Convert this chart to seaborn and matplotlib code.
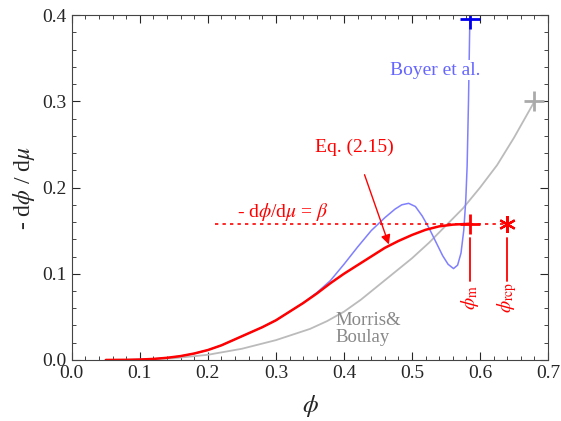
import numpy as np
import pandas as pd
import matplotlib
matplotlib.use("Agg")
import matplotlib.pyplot as plt
from matplotlib.ticker import MultipleLocator
import seaborn as sns

# Eq. (2.15) curve (red)
phi_eq = [0.05, 0.08, 0.10, 0.12, 0.14, 0.16, 0.18, 0.20, 0.22, 0.24, 0.26, 0.28, 0.30,
          0.32, 0.34, 0.36, 0.38, 0.40, 0.42, 0.44, 0.46, 0.48, 0.50, 0.52, 0.54, 0.56, 0.585]
rate_eq = [0.0, 0.0001, 0.0005, 0.0012, 0.0025, 0.0045, 0.0075, 0.0115, 0.017, 0.024, 0.031, 0.038, 0.046,
           0.056, 0.066, 0.077, 0.089, 0.100, 0.110, 0.120, 0.130, 0.138, 0.145, 0.151, 0.155, 0.157, 0.158]

# Boyer et al. (blue)
phi_boyer = [0.05, 0.08, 0.10, 0.12, 0.14, 0.16, 0.18, 0.20, 0.22, 0.24, 0.26, 0.28, 0.30,
             0.32, 0.34, 0.36, 0.38, 0.40, 0.42, 0.44, 0.46, 0.475, 0.485, 0.495, 0.505, 0.515,
             0.525, 0.535, 0.545, 0.553, 0.561, 0.567, 0.572, 0.576, 0.579, 0.581, 0.583, 0.585]
rate_boyer = [0.0, 0.0001, 0.0005, 0.0012, 0.0025, 0.0045, 0.0075, 0.0115, 0.017, 0.024, 0.031, 0.038, 0.046,
              0.056, 0.066, 0.078, 0.092, 0.111, 0.131, 0.150, 0.165, 0.175, 0.180, 0.1817, 0.178, 0.167,
              0.153, 0.137, 0.121, 0.111, 0.106, 0.110, 0.124, 0.150, 0.185, 0.225, 0.300, 0.395]

# Morris & Boulay (gray)
phi_mb = [0.05, 0.10, 0.15, 0.20, 0.25, 0.30, 0.35, 0.375, 0.40, 0.425, 0.45, 0.475, 0.50,
          0.525, 0.55, 0.575, 0.60, 0.625, 0.65, 0.68]
rate_mb = [0.0, 0.0005, 0.002, 0.006, 0.013, 0.023, 0.036, 0.045, 0.056, 0.070, 0.086, 0.102, 0.118,
           0.136, 0.156, 0.176, 0.200, 0.226, 0.258, 0.300]

beta = 0.158
phi_m = 0.585
phi_rcp = 0.64

sns.set_style("ticks")
plt.rcParams["font.family"] = ["Liberation Serif", "DejaVu Serif"]
plt.rcParams["mathtext.fontset"] = "stix"

fig = plt.figure(figsize=(5.61, 4.21), dpi=100)
ax = fig.add_axes([0.128, 0.145, 0.849, 0.819])

sns.lineplot(x=phi_mb, y=rate_mb, color="#bbbbbb", lw=1.3, ax=ax)
sns.lineplot(x=phi_boyer, y=rate_boyer, color="#7f7fff", lw=1.1, ax=ax, sort=False)
sns.lineplot(x=phi_eq, y=rate_eq, color="red", lw=1.8, ax=ax)

# markers
ax.plot(phi_m, rate_boyer[-1], "+", color="#0000ee", ms=14, mew=2)
ax.plot(phi_mb[-1], rate_mb[-1], "+", color="#aaaaaa", ms=14, mew=2)
ax.plot(phi_m, beta, "+", color="red", ms=14, mew=2)
ax.plot(phi_rcp, beta, marker=(6, 2, 0), color="red", ms=12, mew=1.6)

# beta line
ax.plot([0.21, phi_rcp], [beta, beta], ls=(0, (2, 2.5)), color="red", lw=1.2)
ax.text(0.31, 0.172, r"- d$\phi$/d$\mu$ = $\beta$", color="red", fontsize=14, ha="center", va="center")

# vertical markers
for p, lab in [(phi_m, r"$\phi_{\rm m}$"), (phi_rcp, r"$\phi_{\rm rcp}$")]:
    ax.plot([p, p], [0.092, 0.142], color="red", lw=1.3)
    ax.text(p, 0.072, lab, color="red", fontsize=14, rotation=90, ha="center", va="center")

ax.text(0.534, 0.336, "Boyer et al.", color="#6666ff", fontsize=14, ha="center", va="center",
        bbox=dict(fc="white", ec="none", pad=1))
ax.annotate("Eq. (2.15)", xy=(0.466, 0.134), xytext=(0.416, 0.247), color="red", fontsize=14,
            ha="center", va="center",
            arrowprops=dict(arrowstyle="-|>", color="red", lw=1, shrinkA=12, shrinkB=0,
                            mutation_scale=14))
ax.text(0.388, 0.036, "Morris&\nBoulay", color="#888888", fontsize=13.5, ha="left", va="center",
        linespacing=1.0)

ax.set_xlim(0, 0.7)
ax.set_ylim(0, 0.4)
ax.xaxis.set_major_locator(MultipleLocator(0.1))
ax.xaxis.set_minor_locator(MultipleLocator(0.02))
ax.yaxis.set_major_locator(MultipleLocator(0.1))
ax.yaxis.set_minor_locator(MultipleLocator(0.02))
ax.xaxis.set_major_formatter(plt.FormatStrFormatter("%.1f"))
ax.yaxis.set_major_formatter(plt.FormatStrFormatter("%.1f"))
ax.tick_params(which="both", direction="in", top=True, right=True, labelsize=14)
ax.tick_params(which="major", length=6)
ax.tick_params(which="minor", length=3)
for s in ax.spines.values():
    s.set_visible(True)
    s.set_color("#444444")

ax.set_xlabel(r"$\phi$", fontsize=18, labelpad=8)
ax.set_ylabel(r"- d$\phi$ / d$\mu$", fontsize=17, labelpad=4)

fig.savefig("out.png", dpi=100)
